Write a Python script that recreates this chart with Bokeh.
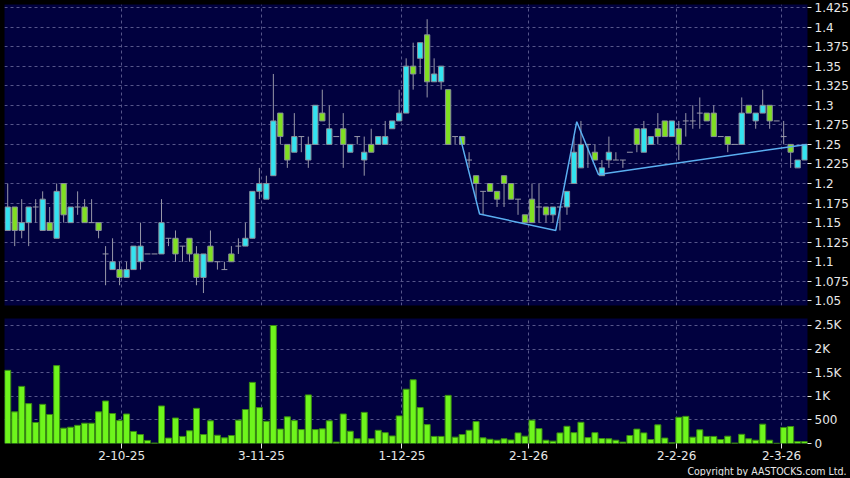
from bokeh.plotting import figure
from bokeh.models import ColumnDataSource, Range1d, FixedTicker, Title, GlobalInlineStyleSheet
from bokeh.layouts import column
from bokeh.embed import file_html
from bokeh.resources import INLINE

# ---------------- data ----------------
opens = [1.14, 1.17, 1.14, 1.15, 1.17, 1.14, 1.15, 1.13, 1.20, 1.15,
         1.17, 1.17, 1.15, 1.15, 1.11, 1.09, 1.09, 1.08, 1.09, 1.10,
         1.11, 1.11, 1.11, 1.13, 1.13, 1.12, 1.13, 1.11, 1.08, 1.12,
         1.10, 1.09, 1.11, 1.12, 1.12, 1.13, 1.19, 1.18, 1.21, 1.29,
         1.25, 1.24, 1.26, 1.23, 1.25, 1.29, 1.25, 1.26, 1.27, 1.24,
         1.26, 1.23, 1.25, 1.25, 1.25, 1.27, 1.28, 1.29, 1.35, 1.36,
         1.39, 1.33, 1.33, 1.32, 1.26, 1.26, 1.23, 1.21, 1.19, 1.20,
         1.19, 1.21, 1.20, 1.18, 1.16, 1.18, 1.17, 1.17, 1.16, 1.17,
         1.17, 1.20, 1.22, 1.25, 1.24, 1.21, 1.23, 1.23, 1.23, 1.24,
         1.27, 1.24, 1.25, 1.27, 1.28, 1.26, 1.27, 1.28, 1.28, 1.29,
         1.29, 1.29, 1.26, 1.26, 1.25, 1.25, 1.30, 1.28, 1.29, 1.30,
         1.28, 1.26, 1.25, 1.22, 1.23]
highs = [1.20, 1.17, 1.18, 1.17, 1.18, 1.19, 1.17, 1.20, 1.20, 1.17,
         1.19, 1.18, 1.18, 1.15, 1.12, 1.13, 1.10, 1.10, 1.12, 1.15,
         1.11, 1.11, 1.18, 1.13, 1.14, 1.12, 1.13, 1.12, 1.11, 1.14,
         1.10, 1.10, 1.12, 1.13, 1.15, 1.19, 1.22, 1.21, 1.34, 1.29,
         1.25, 1.29, 1.26, 1.26, 1.30, 1.32, 1.30, 1.26, 1.29, 1.25,
         1.26, 1.26, 1.27, 1.26, 1.28, 1.28, 1.32, 1.36, 1.38, 1.38,
         1.41, 1.36, 1.35, 1.32, 1.26, 1.26, 1.24, 1.21, 1.19, 1.20,
         1.19, 1.21, 1.20, 1.18, 1.16, 1.20, 1.20, 1.17, 1.17, 1.17,
         1.19, 1.26, 1.28, 1.25, 1.25, 1.23, 1.26, 1.24, 1.23, 1.24,
         1.27, 1.28, 1.26, 1.29, 1.28, 1.28, 1.28, 1.29, 1.30, 1.31,
         1.29, 1.30, 1.26, 1.26, 1.25, 1.31, 1.30, 1.29, 1.32, 1.30,
         1.28, 1.28, 1.25, 1.23, 1.25]
lows = [1.14, 1.12, 1.13, 1.12, 1.15, 1.14, 1.14, 1.13, 1.15, 1.15,
        1.16, 1.15, 1.15, 1.13, 1.07, 1.09, 1.07, 1.08, 1.09, 1.09,
        1.11, 1.11, 1.11, 1.12, 1.10, 1.10, 1.10, 1.07, 1.06, 1.10,
        1.09, 1.09, 1.10, 1.11, 1.12, 1.13, 1.18, 1.18, 1.21, 1.25,
        1.22, 1.24, 1.24, 1.22, 1.25, 1.28, 1.25, 1.26, 1.22, 1.24,
        1.25, 1.21, 1.24, 1.25, 1.25, 1.27, 1.28, 1.29, 1.32, 1.34,
        1.31, 1.33, 1.32, 1.25, 1.25, 1.25, 1.22, 1.18, 1.16, 1.19,
        1.17, 1.17, 1.18, 1.16, 1.15, 1.15, 1.15, 1.15, 1.15, 1.14,
        1.16, 1.20, 1.22, 1.22, 1.23, 1.21, 1.22, 1.23, 1.22, 1.24,
        1.24, 1.24, 1.25, 1.25, 1.26, 1.26, 1.23, 1.26, 1.27, 1.27,
        1.28, 1.26, 1.26, 1.24, 1.25, 1.25, 1.29, 1.27, 1.29, 1.27,
        1.28, 1.25, 1.22, 1.22, 1.23]
closes = [1.17, 1.14, 1.15, 1.17, 1.17, 1.18, 1.14, 1.19, 1.16, 1.17,
          1.17, 1.15, 1.15, 1.14, 1.11, 1.10, 1.08, 1.09, 1.12, 1.12,
          1.11, 1.11, 1.15, 1.13, 1.11, 1.12, 1.11, 1.08, 1.11, 1.10,
          1.10, 1.09, 1.10, 1.12, 1.13, 1.19, 1.20, 1.20, 1.28, 1.26,
          1.23, 1.26, 1.26, 1.25, 1.30, 1.28, 1.27, 1.26, 1.25, 1.25,
          1.26, 1.24, 1.24, 1.26, 1.26, 1.28, 1.29, 1.35, 1.34, 1.38,
          1.33, 1.34, 1.35, 1.25, 1.26, 1.25, 1.23, 1.20, 1.19, 1.19,
          1.18, 1.20, 1.18, 1.18, 1.15, 1.15, 1.17, 1.16, 1.17, 1.17,
          1.19, 1.24, 1.25, 1.25, 1.23, 1.22, 1.24, 1.23, 1.23, 1.24,
          1.25, 1.27, 1.26, 1.26, 1.26, 1.28, 1.25, 1.28, 1.28, 1.29,
          1.28, 1.26, 1.26, 1.25, 1.25, 1.29, 1.29, 1.29, 1.30, 1.28,
          1.28, 1.26, 1.24, 1.23, 1.25]
volumes = [1550, 670, 1210, 845, 445, 830, 615, 1650, 325, 345,
           385, 430, 430, 670, 900, 635, 485, 625, 255, 190,
           65, 10, 795, 115, 540, 150, 270, 745, 190, 480,
           175, 120, 170, 495, 720, 1295, 760, 470, 2500, 305,
           565, 485, 295, 1030, 295, 310, 480, 30, 625, 260,
           100, 660, 100, 280, 230, 160, 585, 1150, 1350, 760,
           400, 150, 150, 1020, 135, 190, 280, 465, 120, 90,
           70, 100, 75, 225, 155, 495, 315, 70, 50, 225,
           365, 230, 450, 125, 230, 105, 100, 70, 30, 170,
           305, 225, 85, 395, 115, 15, 555, 575, 135, 290,
           150, 150, 85, 155, 10, 195, 100, 70, 410, 70,
           5, 340, 360, 40, 40]

# trend line drawn on the chart (bar index, price)
trend_x = [64.7, 67.5, 78.4, 81.4, 84.5, 114.3]
trend_y = [1.260, 1.161, 1.140, 1.279, 1.2115, 1.250]

date_labels = ["2-10-25", "3-11-25", "1-12-25", "2-1-26", "2-2-26", "2-3-26"]
date_pos = [16.3, 36.3, 56.4, 74.5, 95.7, 110.7]

price_ticks = [1.05, 1.075, 1.1, 1.125, 1.15, 1.175, 1.2, 1.225, 1.25,
               1.275, 1.3, 1.325, 1.35, 1.375, 1.4, 1.425]
price_labels = ["1.05", "1.075", "1.1", "1.125", "1.15", "1.175", "1.2", "1.225",
                "1.25", "1.275", "1.3", "1.325", "1.35", "1.375", "1.4", "1.425"]
vol_ticks = [0, 500, 1000, 1500, 2000, 2500]
vol_labels = ["0", "500", "1K", "1.5K", "2K", "2.5K"]

# ---------------- styles ----------------
NAVY = "#01013f"
GRID = "#56568a"
CYAN = "#33e3f0"
GREEN = "#80df22"
WICK = "#9898a8"
OUTLINE = "#8a8f9a"
VOLFILL = "#6ef51c"
VOLLINE = "#3a8c12"
TXT = "#e8e8e8"
FONT = "DejaVu Sans"

n = len(opens)
idx = list(range(n))
is_doji = [o == c for o, c in zip(opens, closes)]

wick_src = ColumnDataSource(dict(x=idx, lo=lows, hi=highs))

body = dict(x=[], top=[], bottom=[], color=[])
dj = dict(x0=[], x1=[], y=[])
for i in idx:
    o, c = opens[i], closes[i]
    if is_doji[i]:
        dj["x0"].append(i - 0.42)
        dj["x1"].append(i + 0.42)
        dj["y"].append(o)
    else:
        body["x"].append(i)
        body["top"].append(max(o, c))
        body["bottom"].append(min(o, c))
        body["color"].append(CYAN if c > o else GREEN)
body_src = ColumnDataSource(body)
doji_src = ColumnDataSource(dj)
vol_src = ColumnDataSource(dict(x=idx, v=volumes))

XR = (-0.46, 114.41)
FW = 803


def style(p):
    p.background_fill_color = NAVY
    p.border_fill_color = "black"
    p.outline_line_color = None
    p.yaxis.axis_line_color = None
    p.yaxis.major_tick_line_color = TXT
    p.yaxis.major_tick_in = 0
    p.yaxis.major_tick_out = 4
    p.yaxis.minor_tick_line_color = None
    p.yaxis.major_label_text_color = TXT
    p.yaxis.major_label_text_font = FONT
    p.yaxis.major_label_text_font_size = "12px"
    p.yaxis.major_label_standoff = 3
    for g in (p.xgrid, p.ygrid):
        g.grid_line_color = GRID
        g.grid_line_dash = "3 3"
        g.grid_line_width = 1
    p.xgrid.ticker = FixedTicker(ticks=date_pos)


# ---------------- price panel ----------------
p1 = figure(frame_width=FW, frame_height=301,
            x_range=Range1d(*XR), y_range=Range1d(1.0441, 1.4288),
            y_axis_location="right", x_axis_location=None,
            output_backend="svg", toolbar_location=None,
            min_border_left=4, min_border_top=4, min_border_bottom=7, min_border_right=43)
style(p1)
p1.yaxis.ticker = FixedTicker(ticks=price_ticks)
p1.yaxis.major_label_overrides = {t: l for t, l in zip(price_ticks, price_labels)}

p1.segment(x0="x", y0="lo", x1="x", y1="hi", source=wick_src, line_color=WICK, line_width=1)
p1.vbar(x="x", top="top", bottom="bottom", width=0.76, source=body_src,
        fill_color="color", line_color=OUTLINE, line_width=1)
p1.segment(x0="x0", y0="y", x1="x1", y1="y", source=doji_src, line_color=WICK, line_width=1)
p1.line(trend_x, trend_y, line_color="#5aaef0", line_width=1.5)

# ---------------- volume panel ----------------
p2 = figure(frame_width=FW, frame_height=125,
            x_range=Range1d(*XR), y_range=Range1d(0, 2648),
            y_axis_location="right",
            output_backend="svg", toolbar_location=None,
            min_border_left=4, min_border_top=6, min_border_bottom=0, min_border_right=43)
style(p2)
p2.yaxis.ticker = FixedTicker(ticks=vol_ticks)
p2.yaxis.major_label_overrides = {t: l for t, l in zip(vol_ticks, vol_labels)}
p2.xaxis.ticker = FixedTicker(ticks=date_pos)
p2.xaxis.major_label_overrides = {t: l for t, l in zip(date_pos, date_labels)}
p2.xaxis.axis_line_color = None
p2.xaxis.major_tick_line_color = TXT
p2.xaxis.major_tick_in = 0
p2.xaxis.major_tick_out = 5
p2.xaxis.minor_tick_line_color = None
p2.xaxis.major_label_text_color = TXT
p2.xaxis.major_label_text_font = FONT
p2.xaxis.major_label_text_font_size = "12px"
p2.xaxis.major_label_standoff = 2

p2.vbar(x="x", top="v", bottom=0, width=0.86, source=vol_src,
        fill_color=VOLFILL, line_color=VOLLINE, line_width=1)

p2.add_layout(Title(text="Copyright by AASTOCKS.com Ltd.", align="right",
                    text_font="DejaVu Sans Condensed", text_font_size="10.5px",
                    text_font_style="normal", text_color=TXT,
                    offset=-39, standoff=0), "below")

layout = column(p1, p2, spacing=0,
                stylesheets=[GlobalInlineStyleSheet(css="body{background:#000;}")])

open("out.html", "w").write(file_html(layout, INLINE))
